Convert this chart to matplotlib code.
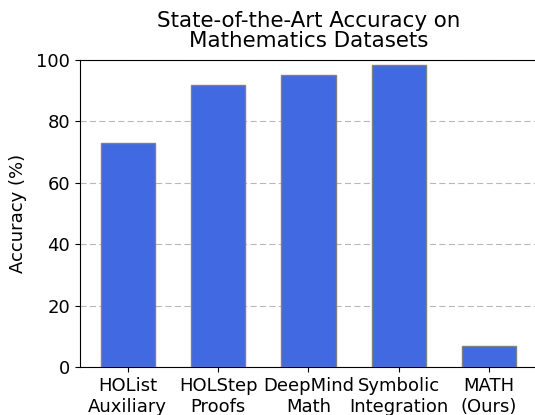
import numpy as np
import matplotlib.pyplot as plt

datasets = ["HOList\nAuxiliary", "HOLStep\nProofs", "DeepMind\nMath",
            "Symbolic\nIntegration", "MATH\n(Ours)"]
accuracy = [72.8, 91.7, 95.0, 98.3, 6.9]

fig = plt.figure(figsize=(5.35, 4.15), dpi=100)
ax = fig.add_axes([0.1495, 0.1157, 0.8542, 0.7398])

x = np.arange(len(datasets))
ax.bar(x, accuracy, width=0.6, color="royalblue", edgecolor="gray", zorder=3)
ax.set_xticks(x)
ax.set_xticklabels(datasets, fontsize=13)
ax.set_ylim(0, 100)
ax.tick_params(axis="y", labelsize=13)
ax.set_ylabel("Accuracy (%)", fontsize=13, labelpad=7)
ax.set_title("State-of-the-Art Accuracy on\nMathematics Datasets", fontsize=15.4,
             linespacing=1.05, pad=9)
ax.yaxis.grid(True, linestyle=(0, (5.5, 3)), color="0.72", linewidth=0.8, zorder=0)
ax.spines["right"].set_visible(False)

fig.savefig("out.png", dpi=100)
